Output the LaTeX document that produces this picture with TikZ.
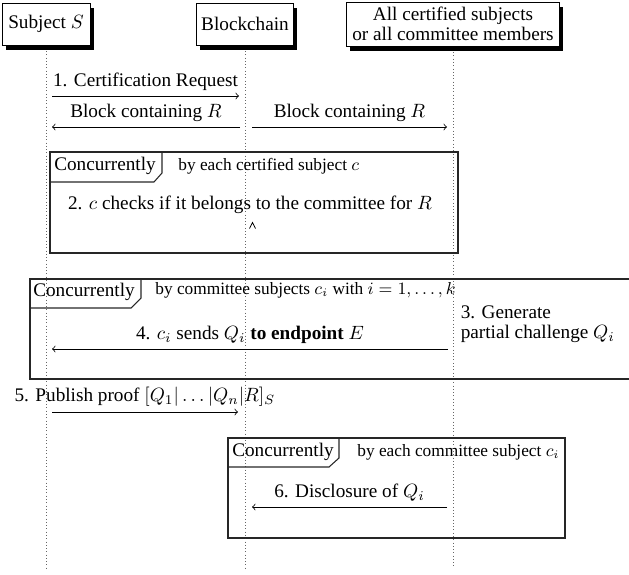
\documentclass[tikz,border=0pt]{standalone}
\usepackage{fontspec}
\setmainfont{Liberation Serif}
\usetikzlibrary{shadows}
\begin{document}
\begin{tikzpicture}[x=0.52pt,y=-0.52pt,
  thread/.style={draw, fill=white, inner sep=2pt,
    drop shadow={shadow xshift=2pt, shadow yshift=-2.6pt, fill=black, opacity=1}},
  lifeline/.style={dash pattern=on 0.4pt off 1.3pt, black!60},
  msg/.style={->},
  framebox/.style={draw=black!85, line width=0.55pt},
  tablabel/.style={inner sep=0pt},
  hdr/.style={font=\small, inner sep=0pt, anchor=west},
  lbl/.style={above, inner sep=2.8pt},
  twoline/.style={align=left, font=\fontsize{10pt}{10.6pt}\selectfont}
]
\useasboundingbox (0,0) rectangle (629,574);

% threads
\node[thread, minimum width=45.8pt, minimum height=21.8pt] (S) at (46,24) {Subject $S$};
\node[thread, minimum width=50.4pt, minimum height=21.8pt] (B) at (245,24) {Blockchain};
\node[thread, minimum width=110.8pt, minimum height=22.9pt, align=center,
      font=\fontsize{10pt}{10.6pt}\selectfont] (C) at (453,24)
      {All certified subjects\\or all committee members};

% lifelines
\coordinate (Se) at (46,568);
\coordinate (Be) at (245,568);
\coordinate (Ce) at (453,568);
\draw[lifeline] ([yshift=-3pt]S.south) -- (Se);
\draw[lifeline] ([yshift=-3pt]B.south) -- (Be);
\draw[lifeline] ([yshift=-3pt]C.south) -- (Ce);

% messages 1
\coordinate (m1s) at (52,96);  \coordinate (m1e) at (239,96);
\draw[msg] (m1s) -- node[lbl] (l1) {1. Certification Request} (m1e);
\coordinate (m2s) at (240,127); \coordinate (m2e) at (52,127);
\draw[msg] (m2s) -- node[lbl] (l2) {Block containing $R$} (m2e);
\coordinate (m3s) at (252,127); \coordinate (m3e) at (447,127);
\draw[msg] (m3s) -- node[lbl] (l3) {Block containing $R$} (m3e);

% frame 1
\draw[framebox] (50,152) rectangle (458,253);
\draw[framebox] (162,152) -- (162,173) -- (154,182) -- (50,182);
\node[tablabel] (t1) at (105,166) {Concurrently};
\node[hdr] (h1) at (178,166) {by each certified subject $c$};
\node (s2) at (250,205) {2. $c$ checks if it belongs to the committee for $R$};
\draw (249.5,228.5) -- (252.5,222.5) -- (255.5,228.5);

% frame 2
\draw[framebox] (629,279) -- (30,279) -- (30,379) -- (629,379);
\draw[framebox] (141,279) -- (141,298) -- (131,308) -- (30,308);
\node[tablabel] (t2) at (84,292) {Concurrently};
\node[hdr] (h2) at (155,290) {by committee subjects $c_i$ with $i = 1, \ldots, k$};
\node[twoline, anchor=west] (s3) at (454,324) {3. Generate\\partial challenge $Q_i$};
\coordinate (m4s) at (448,349); \coordinate (m4e) at (52,349);
\draw[msg] (m4s) -- node[lbl] (l4) {4. $c_i$ sends $Q_i$ \textbf{to endpoint} $E$} (m4e);

% message 5
\coordinate (m5s) at (52,412); \coordinate (m5e) at (238,412);
\draw[msg] (m5s) -- node[lbl] (l5) {5. Publish proof $[Q_1|\ldots|Q_n|R]_S$} (m5e);

% frame 3
\draw[framebox] (228,438) rectangle (565,538);
\draw[framebox] (339,438) -- (339,458) -- (329,467) -- (228,467);
\node[tablabel] (t3) at (283,452) {Concurrently};
\node[hdr] (h3) at (357,452) {by each committee subject $c_i$};
\coordinate (m6s) at (447,507); \coordinate (m6e) at (252,507);
\draw[msg] (m6s) -- node[lbl] (l6) {6. Disclosure of $Q_i$} (m6e);
\end{tikzpicture}
\end{document}
